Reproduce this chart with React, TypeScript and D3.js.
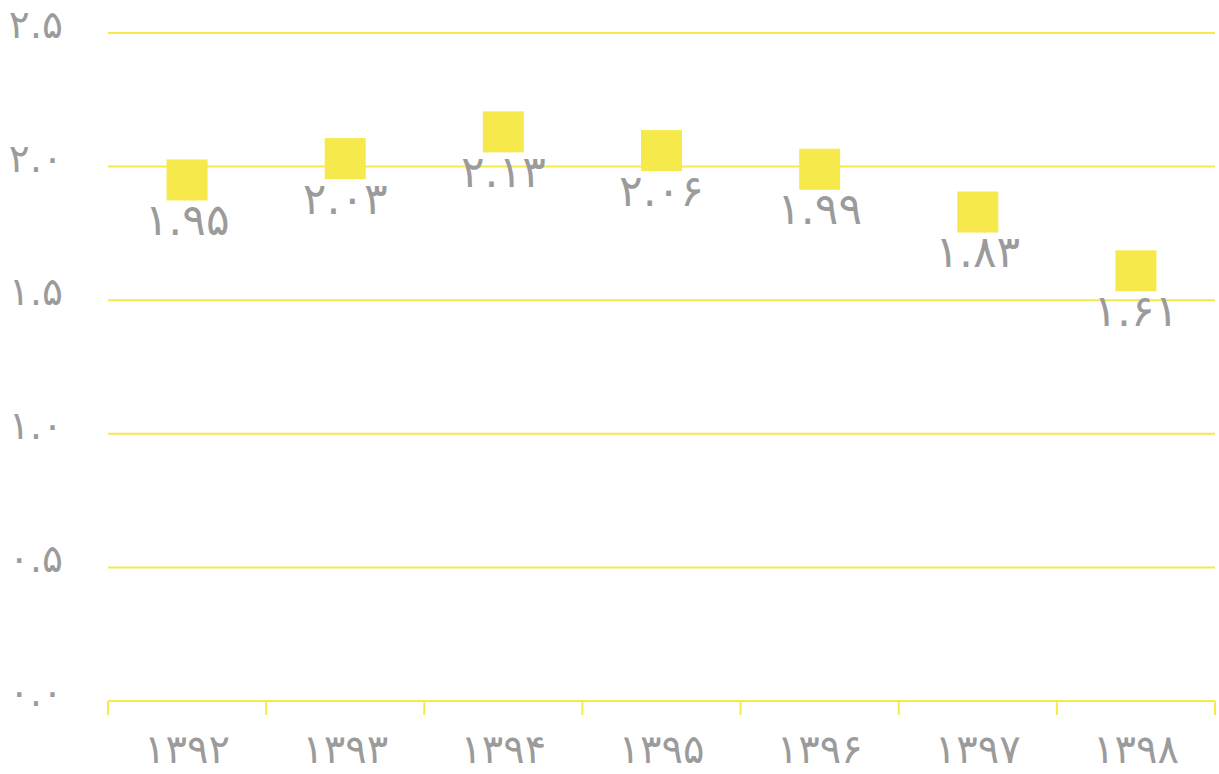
import { useRef, useEffect } from 'react';
import * as d3 from 'd3';

const years = ['1392', '1393', '1394', '1395', '1396', '1397', '1398'];
const values = [1.95, 2.03, 2.13, 2.06, 1.99, 1.83, 1.61];
const yTicks = [0, 0.5, 1, 1.5, 2, 2.5];

const W = 1219;
const H = 774;
const YELLOW = '#f5e94c';
const GRAY = '#9b9b9b';
const FONT = '"DejaVu Sans", sans-serif';

// latin digits -> persian digits
const fa = (s: string) => s.replace(/[0-9]/g, (c) => '۰۱۲۳۴۵۶۷۸۹'[+c]);

export default function App() {
  const svgRef = useRef<SVGSVGElement>(null);

  useEffect(() => {
    const svg = d3.select(svgRef.current);
    svg.selectAll('*').remove();

    const m = { left: 108, right: 4, top: 33, bottom: 73 };

    const x = d3
      .scaleBand()
      .domain(years)
      .range([m.left, W - m.right]);

    const y = d3
      .scaleLinear()
      .domain([0, 2.5])
      .range([H - m.bottom, m.top]);

    // grid lines
    svg
      .append('g')
      .selectAll('line')
      .data(yTicks.filter((d) => d > 0))
      .join('line')
      .attr('x1', m.left)
      .attr('x2', W - m.right)
      .attr('y1', (d) => y(d))
      .attr('y2', (d) => y(d))
      .attr('stroke', YELLOW)
      .attr('stroke-width', 2);

    // y labels
    svg
      .append('g')
      .selectAll('text')
      .data(yTicks)
      .join('text')
      .attr('x', 63)
      .attr('y', (d) => y(d) + 5)
      .attr('text-anchor', 'end')
      .attr('fill', GRAY)
      .attr('font-family', FONT)
      .attr('font-size', 39)
      .text((d) => fa(d.toFixed(1)));

    // x axis
    const xAxis = svg.append('g');
    xAxis
      .append('line')
      .attr('x1', m.left)
      .attr('x2', W - m.right)
      .attr('y1', y(0))
      .attr('y2', y(0))
      .attr('stroke', YELLOW)
      .attr('stroke-width', 2);

    const edges = [...years.map((d) => x(d)!), x(years[years.length - 1])! + x.bandwidth()];
    xAxis
      .selectAll('.tick')
      .data(edges)
      .join('line')
      .attr('x1', (d) => d)
      .attr('x2', (d) => d)
      .attr('y1', y(0))
      .attr('y2', y(0) + 14)
      .attr('stroke', YELLOW)
      .attr('stroke-width', 2);

    xAxis
      .selectAll('.lbl')
      .data(years)
      .join('text')
      .attr('x', (d) => x(d)! + x.bandwidth() / 2)
      .attr('y', y(0) + 62)
      .attr('text-anchor', 'middle')
      .attr('fill', GRAY)
      .attr('font-family', FONT)
      .attr('font-size', 40)
      .text((d) => fa(d));

    // squares
    const size = 41;
    svg
      .append('g')
      .selectAll('rect')
      .data(values)
      .join('rect')
      .attr('x', (_, i) => x(years[i])! + x.bandwidth() / 2 - size / 2)
      .attr('y', (d) => y(d) - size / 2)
      .attr('width', size)
      .attr('height', size)
      .attr('fill', YELLOW);

    // value labels
    svg
      .append('g')
      .selectAll('text')
      .data(values)
      .join('text')
      .attr('x', (_, i) => x(years[i])! + x.bandwidth() / 2)
      .attr('y', (d) => y(d) + 55)
      .attr('text-anchor', 'middle')
      .attr('fill', GRAY)
      .attr('font-family', FONT)
      .attr('font-size', 44)
      .text((d) => fa(d.toFixed(2)));
  }, []);

  return (
    <svg
      ref={svgRef}
      width={W}
      height={H}
      style={{ position: 'fixed', left: 0, top: 0, background: '#fff' }}
    />
  );
}
